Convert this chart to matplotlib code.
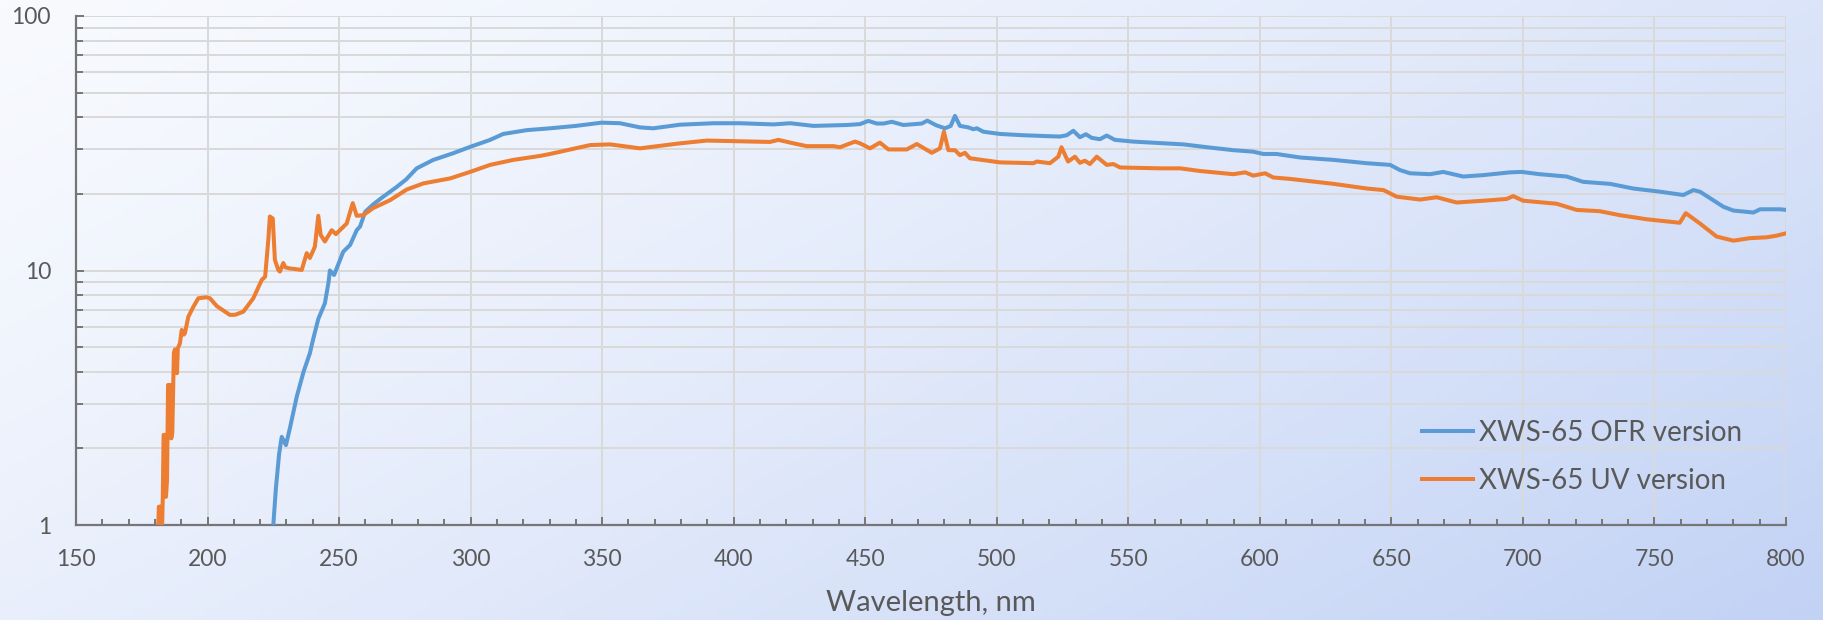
import numpy as np
import matplotlib
matplotlib.use("Agg")
import matplotlib.pyplot as plt
from matplotlib.ticker import MultipleLocator, FixedLocator, FuncFormatter, NullFormatter

plt.rcParams['font.family'] = ['Lato', 'DejaVu Sans']

ofr_x = [225.0, 226.0, 227.2, 228.2, 229.8, 231.3, 233.9, 236.5, 238.9, 240.2, 242.1, 244.6, 246.0, 246.5,
         248.1, 251.6, 254.2, 256.7, 258.0, 259.9, 263.0, 266.8, 271.9, 275.5, 279.5, 285.8, 293.4, 299.8,
         307.4, 312.4, 321.3, 330.2, 340.0, 349.8, 356.8, 364.4, 369.4, 379.6, 392.3, 402.4, 415.1, 421.5,
         430.3, 443.0, 448.0, 451.2, 454.4, 457.0, 460.1, 464.5, 471.5, 473.6, 477.0, 480.3, 482.5, 484.1,
         486.0, 489.2, 491.1, 492.4, 494.9, 501.2, 510.0, 520.0, 524.0, 526.6, 529.1, 531.6, 533.9, 536.1,
         539.2, 541.8, 544.9, 551.9, 570.9, 580.0, 589.9, 597.5, 601.3, 606.3, 615.3, 628.0, 640.6, 649.5,
         653.3, 657.1, 664.7, 669.7, 677.3, 684.9, 695.1, 699.5, 706.4, 716.6, 722.9, 733.1, 741.9, 752.1,
         761.0, 764.8, 767.3, 776.2, 780.0, 787.6, 790.2, 797.8, 800.0]
ofr_y = [1.0, 1.4, 1.9, 2.22, 2.06, 2.40, 3.19, 4.0, 4.73, 5.4, 6.45, 7.43, 9.0, 10.0,
         9.6, 11.86, 12.6, 14.4, 14.9, 17.0, 18.2, 19.5, 21.3, 22.8, 25.2, 27.2, 28.9, 30.6,
         32.6, 34.4, 35.6, 36.2, 37.0, 38.1, 37.9, 36.5, 36.2, 37.4, 37.9, 37.9, 37.5, 37.9,
         37.0, 37.3, 37.6, 38.7, 37.8, 37.8, 38.4, 37.3, 37.8, 38.8, 37.2, 36.2, 37.0, 40.5,
         37.0, 36.5, 35.9, 36.2, 35.1, 34.4, 34.0, 33.7, 33.6, 34.0, 35.4, 33.4, 34.3, 33.2,
         32.8, 33.9, 32.6, 32.1, 31.3, 30.5, 29.7, 29.3, 28.7, 28.7, 27.8, 27.2, 26.4, 26.0,
         24.8, 24.1, 23.9, 24.4, 23.4, 23.7, 24.3, 24.4, 23.9, 23.4, 22.3, 21.9, 21.0, 20.4,
         19.8, 20.7, 20.4, 17.8, 17.2, 16.9, 17.4, 17.4, 17.3]

uv_x = [181.2, 181.5, 182.4, 182.7, 183.0, 183.3, 183.9, 184.2, 184.6, 185.0, 185.8, 186.2, 186.6, 187.2,
        187.6, 188.0, 188.4, 188.7, 189.5, 190.2, 191.0, 191.4, 192.7, 194.6, 196.5, 199.7, 200.9, 203.5,
        208.5, 210.5, 213.6, 217.4, 220.6, 221.9, 223.1, 223.7, 224.8, 225.6, 226.9, 227.5, 228.8, 229.5,
        231.0, 235.8, 237.7, 238.9, 240.8, 242.1, 243.0, 244.6, 247.2, 248.8, 252.9, 255.2, 256.7, 259.2,
        263.0, 269.4, 275.7, 282.1, 292.2, 299.8, 307.4, 316.2, 326.4, 330.2, 345.4, 353.0, 364.4, 379.6,
        389.8, 407.5, 413.8, 417.0, 422.7, 427.8, 437.9, 440.4, 446.1, 448.0, 451.8, 455.6, 458.8, 465.8,
        469.6, 475.3, 478.4, 479.9, 481.6, 484.1, 486.0, 487.9, 489.8, 501.2, 513.9, 515.2, 520.2, 523.4,
        524.6, 527.1, 529.7, 531.6, 533.5, 535.4, 538.0, 541.8, 544.3, 546.9, 562.1, 569.7, 577.3, 589.9,
        594.4, 597.5, 602.0, 605.1, 611.5, 628.0, 640.6, 647.0, 652.0, 660.9, 667.2, 674.8, 684.9, 693.8,
        696.3, 700.1, 712.8, 720.4, 729.2, 736.8, 747.0, 754.6, 759.6, 761.9, 767.3, 773.6, 780.0, 786.3,
        792.6, 796.4, 800.0]
uv_y = [0.95, 1.18, 1.18, 0.95, 1.3, 2.26, 2.26, 1.29, 1.5, 3.55, 3.55, 2.19, 2.3, 4.73,
        4.9, 4.2, 3.95, 4.95, 5.17, 5.84, 5.6, 5.67, 6.58, 7.2, 7.78, 7.85, 7.78, 7.25,
        6.69, 6.7, 6.89, 7.78, 9.18, 9.46, 13.2, 16.3, 16.0, 11.0, 10.05, 9.9, 10.7, 10.3,
        10.2, 10.05, 11.7, 11.2, 12.4, 16.4, 13.8, 13.0, 14.4, 13.9, 15.3, 18.4, 16.4, 16.5,
        17.6, 18.9, 20.8, 22.0, 23.0, 24.4, 26.0, 27.2, 28.2, 28.7, 31.1, 31.3, 30.2, 31.6,
        32.4, 32.1, 32.0, 32.6, 31.6, 30.8, 30.8, 30.5, 32.1, 31.6, 30.2, 31.8, 29.9, 29.9,
        31.4, 29.0, 30.2, 35.1, 29.7, 29.7, 28.4, 29.0, 27.6, 26.6, 26.4, 26.8, 26.4, 28.0,
        30.5, 26.8, 28.0, 26.5, 27.0, 26.2, 28.0, 26.0, 26.2, 25.4, 25.2, 25.2, 24.6, 23.9,
        24.3, 23.6, 24.1, 23.2, 22.9, 21.9, 21.0, 20.7, 19.5, 19.0, 19.4, 18.5, 18.8, 19.1,
        19.6, 18.8, 18.3, 17.3, 17.1, 16.5, 15.9, 15.6, 15.4, 16.8, 15.3, 13.6, 13.1, 13.4,
        13.5, 13.7, 14.0]

series_names = ["XWS-65 OFR version", "XWS-65 UV version"]
series_colors = ["#5b9bd5", "#ed7d31"]
x_label = "Wavelength, nm"

W, H = 1824, 620
fig = plt.figure(figsize=(W / 100, H / 100), dpi=100)

# background gradient
bg = fig.add_axes([0, 0, 1, 1], zorder=-10)
gx, gy = np.meshgrid(np.linspace(0, 1, 400), np.linspace(0, 1, 140))
t = np.clip(0.62 * gx + 0.38 * gy, 0, 1) ** 1.3
c0 = np.array([248, 250, 254]) / 255.0
c1 = np.array([194, 210, 245]) / 255.0
img = c0[None, None, :] * (1 - t[..., None]) + c1[None, None, :] * t[..., None]
bg.imshow(img, aspect='auto', extent=[0, 1, 0, 1], origin='upper')
bg.axis('off')

ax = fig.add_axes([76 / W, 1 - 525 / H, (1786 - 76) / W, (525 - 16) / H])
ax.patch.set_alpha(0)

ax.plot(ofr_x, ofr_y, color=series_colors[0], lw=2.9, label=series_names[0], zorder=3, solid_joinstyle='round')
ax.plot(uv_x, uv_y, color=series_colors[1], lw=2.9, label=series_names[1], zorder=3, solid_joinstyle='round')

ax.set_yscale('log')
ax.set_xlim(150, 800)
ax.set_ylim(1, 100)

ax.xaxis.set_major_locator(MultipleLocator(50))
ax.xaxis.set_minor_locator(MultipleLocator(10))
ax.yaxis.set_major_locator(FixedLocator([1, 10, 100]))
minors = [m * d for d in (1, 10) for m in range(2, 10)]
ax.yaxis.set_minor_locator(FixedLocator(minors))
ax.yaxis.set_major_formatter(FuncFormatter(lambda v, p: f"{v:g}"))
ax.yaxis.set_minor_formatter(NullFormatter())

grid_c = "#d9d9d9"
ax.grid(True, which='major', axis='x', color=grid_c, lw=1.4, zorder=0)
ax.grid(True, which='both', axis='y', color=grid_c, lw=1.4, zorder=0)
ax.set_axisbelow(True)

axis_c = "#767676"
text_c = "#595959"
for s in ('top', 'right'):
    ax.spines[s].set_visible(False)
for s in ('left', 'bottom'):
    ax.spines[s].set_color(axis_c)
    ax.spines[s].set_linewidth(1.6)

ax.tick_params(axis='x', which='major', direction='in', length=6, width=1.4, color=axis_c,
               labelsize=16.5, labelcolor=text_c, pad=17)
ax.tick_params(axis='x', which='minor', direction='in', length=4.5, width=1.4, color=axis_c)
ax.tick_params(axis='y', which='major', direction='in', length=6, width=1.4, color=axis_c,
               labelsize=16.5, labelcolor=text_c, pad=18)
ax.tick_params(axis='y', which='minor', direction='in', length=5, width=1.4, color=axis_c)

ax.set_xlabel(x_label, fontsize=21, color=text_c, labelpad=15)

leg = ax.legend(loc='center left', bbox_to_anchor=(0.787, 0.134), frameon=False,
                fontsize=20, handlelength=1.85, handletextpad=0.2, labelspacing=0.8,
                borderpad=0, borderaxespad=0)
for txt in leg.get_texts():
    txt.set_color(text_c)

fig.savefig("out.png", dpi=100)
